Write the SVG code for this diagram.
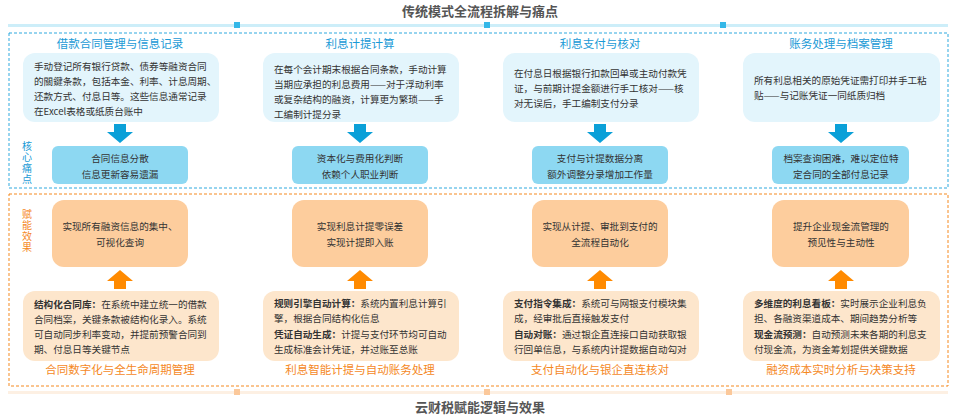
<svg xmlns="http://www.w3.org/2000/svg" width="960" height="417" viewBox="0 0 960 417">
<style>
text{font-family:"Noto Sans CJK SC","Noto Sans",sans-serif}
.h{font-size:13px;font-weight:bold;fill:#555;text-anchor:middle}
.bt{font-size:11.5px;fill:#1a9ad6;text-anchor:middle}
.ot{font-size:11.5px;fill:#f5891f;text-anchor:middle}
.b{font-size:9.6px;fill:#333}
.c{font-size:9.6px;fill:#333;text-anchor:middle}
.info{fill:#e3f5fc}
.pain{fill:#8dd8f2}
.eff{fill:#fdcd9d}
.sol{fill:#fde6cc}
.side{font-size:10px;writing-mode:vertical-rl;letter-spacing:1px}
</style>
<rect width="960" height="417" fill="#fff"/>
<text class="h" x="480" y="16">传统模式全流程拆解与痛点</text>
<rect x="8" y="24" width="940" height="3" fill="#cdeef9"/>
<rect x="234" y="22" width="6" height="6" fill="#35b8e8"/><rect x="484" y="22" width="6" height="6" fill="#35b8e8"/><rect x="720" y="22" width="6" height="6" fill="#35b8e8"/>
<rect x="9" y="33" width="939" height="155" fill="none" stroke="#2fa9df" stroke-dasharray="3,2"/>
<text class="side" x="27" y="141" fill="#1a9ad6">核心痛点</text>
<rect x="9" y="194" width="939" height="192" fill="none" stroke="#f5891f" stroke-dasharray="3,2"/>
<text class="side" x="27" y="209" fill="#f5891f">赋能效果</text>
<rect x="8" y="391" width="940" height="3" fill="#fdf0e3"/>
<rect x="234" y="389" width="6" height="6" fill="#fbc89a"/><rect x="484" y="389" width="6" height="6" fill="#fbc89a"/><rect x="726" y="389" width="6" height="6" fill="#fbc89a"/>
<text class="h" x="480" y="412">云财税赋能逻辑与效果</text>
<defs>
<path id="ad" d="M-6,0H6V8H13L0,19L-13,8H-6Z" fill="#0aa0d8"/>
<path id="au" d="M-6,19H6V11H13L0,0L-13,11H-6Z" fill="#ff8a00"/>
</defs>
<g id="connectors">
<use href="#ad" x="120" y="124"/><use href="#ad" x="360" y="124"/><use href="#ad" x="600" y="124"/><use href="#ad" x="841" y="124"/>
<use href="#au" x="120" y="270"/><use href="#au" x="360" y="270"/><use href="#au" x="600" y="270"/><use href="#au" x="841" y="270"/>
</g>
<g id="col1">
<text class="bt" x="120" y="48">借款合同管理与信息记录</text>
<rect class="info" x="23" y="53" width="196" height="69" rx="12"/>
<text class="b" x="34" y="70">手动登记所有银行贷款、债券等融资合同</text>
<text class="b" x="34" y="85">的關鍵条款，包括本金、利率、计息周期、</text>
<text class="b" x="34" y="100">还款方式、付息日等。这些信息通常记录</text>
<text class="b" x="34" y="115">在Excel表格或纸质台账中</text>
<rect class="pain" x="52" y="146" width="136" height="38" rx="6"/>
<text class="c" x="120" y="162">合同信息分散</text><text class="c" x="120" y="178">信息更新容易遗漏</text>
<rect class="eff" x="52" y="200" width="136" height="67" rx="12"/>
<text class="c" x="120" y="230">实现所有融资信息的集中、</text><text class="c" x="120" y="246">可视化查询</text>
<rect class="sol" x="23" y="291" width="196" height="70" rx="12"/>
<text class="b" x="34" y="308"><tspan font-weight="bold">结构化合同库：</tspan>在系统中建立统一的借款</text>
<text class="b" x="34" y="323">合同档案，关键条款被结构化录入。系统</text>
<text class="b" x="34" y="338">可自动同步利率变动，并提前预警合同到</text>
<text class="b" x="34" y="353">期、付息日等关键节点</text>
<text class="ot" x="120" y="374">合同数字化与全生命周期管理</text>
</g>
<g id="col2">
<text class="bt" x="360" y="48">利息计提计算</text>
<rect class="info" x="263" y="53" width="196" height="69" rx="12"/>
<text class="b" x="274" y="73">在每个会计期末根据合同条款，手动计算</text>
<text class="b" x="274" y="88">当期应承担的利息费用——对于浮动利率</text>
<text class="b" x="274" y="103">或复杂结构的融资，计算更为繁琐——手</text>
<text class="b" x="274" y="118">工编制计提分录</text>
<rect class="pain" x="292" y="146" width="136" height="38" rx="6"/>
<text class="c" x="360" y="162">资本化与费用化判断</text><text class="c" x="360" y="178">依赖个人职业判断</text>
<rect class="eff" x="292" y="200" width="136" height="67" rx="12"/>
<text class="c" x="360" y="230">实现利息计提零误差</text><text class="c" x="360" y="246">实现计提即入账</text>
<rect class="sol" x="263" y="291" width="196" height="70" rx="12"/>
<text class="b" x="274" y="307"><tspan font-weight="bold">规则引擎自动计算：</tspan>系统内置利息计算引</text>
<text class="b" x="274" y="322">擎，根据合同结构化信息</text>
<text class="b" x="274" y="338"><tspan font-weight="bold">凭证自动生成：</tspan>计提与支付环节均可自动</text>
<text class="b" x="274" y="353">生成标准会计凭证，并过账至总账</text>
<text class="ot" x="360" y="374">利息智能计提与自动账务处理</text>
</g>
<g id="col3">
<text class="bt" x="600" y="48">利息支付与核对</text>
<rect class="info" x="503" y="53" width="196" height="69" rx="12"/>
<text class="b" x="514" y="77">在付息日根据银行扣款回单或主动付款凭</text>
<text class="b" x="514" y="92">证，与前期计提金额进行手工核对——核</text>
<text class="b" x="514" y="107">对无误后，手工编制支付分录</text>
<rect class="pain" x="532" y="146" width="136" height="38" rx="6"/>
<text class="c" x="600" y="162">支付与计提数据分离</text><text class="c" x="600" y="178">额外调整分录增加工作量</text>
<rect class="eff" x="532" y="200" width="136" height="67" rx="12"/>
<text class="c" x="600" y="230">实现从计提、审批到支付的</text><text class="c" x="600" y="246">全流程自动化</text>
<rect class="sol" x="503" y="291" width="196" height="70" rx="12"/>
<text class="b" x="514" y="307"><tspan font-weight="bold">支付指令集成：</tspan>系统可与网银支付模块集</text>
<text class="b" x="514" y="322">成，经审批后直接触发支付</text>
<text class="b" x="514" y="338"><tspan font-weight="bold">自动对账：</tspan>通过银企直连接口自动获取银</text>
<text class="b" x="514" y="353">行回单信息，与系统内计提数据自动勾对</text>
<text class="ot" x="600" y="374">支付自动化与银企直连核对</text>
</g>
<g id="col4">
<text class="bt" x="841" y="48">账务处理与档案管理</text>
<rect class="info" x="743" y="53" width="197" height="69" rx="12"/>
<text class="b" x="754" y="84">所有利息相关的原始凭证需打印并手工粘</text>
<text class="b" x="754" y="99">贴——与记账凭证一同纸质归档</text>
<rect class="pain" x="772" y="146" width="137" height="38" rx="6"/>
<text class="c" x="841" y="162">档案查询困难，难以定位特</text><text class="c" x="841" y="178">定合同的全部付息记录</text>
<rect class="eff" x="772" y="200" width="137" height="67" rx="12"/>
<text class="c" x="841" y="230">提升企业现金流管理的</text><text class="c" x="841" y="246">预见性与主动性</text>
<rect class="sol" x="743" y="291" width="197" height="70" rx="12"/>
<text class="b" x="754" y="307"><tspan font-weight="bold">多维度的利息看板：</tspan>实时展示企业利息负</text>
<text class="b" x="754" y="322">担、各融资渠道成本、期间趋势分析等</text>
<text class="b" x="754" y="338"><tspan font-weight="bold">现金流预测：</tspan>自动预测未来各期的利息支</text>
<text class="b" x="754" y="353">付现金流，为资金筹划提供关键数据</text>
<text class="ot" x="841" y="374">融资成本实时分析与决策支持</text>
</g>
</svg>
